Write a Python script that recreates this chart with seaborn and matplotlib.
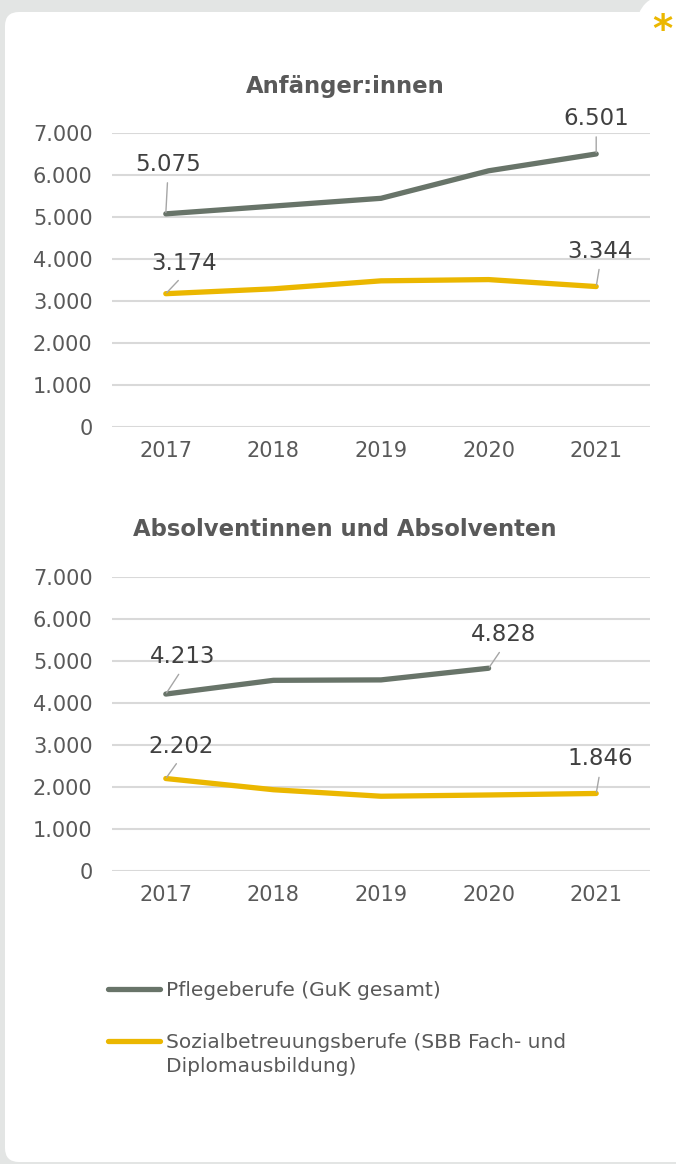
import numpy as np
import pandas as pd
import seaborn as sns
import matplotlib.pyplot as plt
from matplotlib.patches import FancyBboxPatch, Circle

# Daten
years = [2017, 2018, 2019, 2020, 2021]
pflege = "Pflegeberufe (GuK gesamt)"
sozial = "Sozialbetreuungsberufe (SBB Fach- und"
sozial_rest = "Diplomausbildung)"

# Anfänger:innen
start_pflege = [5075, 5260, 5445, 6100, 6501]
start_sozial = [3174, 3290, 3480, 3510, 3344]

# Absolventinnen und Absolventen
grad_pflege = [4213, 4540, 4550, 4828, np.nan]
grad_sozial = [2202, 1935, 1780, 1810, 1846]

yticks = [0, 1000, 2000, 3000, 4000, 5000, 6000, 7000]
ytick_labels = ["0", "1.000", "2.000", "3.000", "4.000", "5.000", "6.000", "7.000"]

titles = ["Anfänger:innen", "Absolventinnen und Absolventen"]

GREY_LINE = "#687469"
YELLOW = "#ebb700"
TXT = "#595959"


def fmt(v):
    return f"{v:,.0f}".replace(",", ".")


def make_df(p, s):
    return pd.DataFrame({
        "Jahr": years * 2,
        "Wert": list(p) + list(s),
        "Gruppe": [pflege] * len(years) + [sozial] * len(years),
    })


fig = plt.figure(figsize=(6.76, 11.64), dpi=100)
fig.patch.set_facecolor("#e3e5e4")

# weiße Karte
card = FancyBboxPatch((0.05, 0.02), 7.5, 11.50,
                      boxstyle="round,pad=0,rounding_size=0.14",
                      transform=fig.dpi_scale_trans, facecolor="white",
                      edgecolor="none", zorder=-2)
fig.patches.append(card)
fig.patches.append(Circle((6.66, 11.40), 0.29, transform=fig.dpi_scale_trans,
                          facecolor="white", edgecolor="none", zorder=-2))
fig.text(662 / 676, 1 - 31 / 1164, "*", color=YELLOW, fontsize=28,
         fontweight="bold", ha="center", va="center")

left, width, height = 112 / 676, 538 / 676, 294 / 1164
ax1 = fig.add_axes([left, 1 - 427 / 1164, width, height])
ax2 = fig.add_axes([left, 1 - 871 / 1164, width, height])
for a in (ax1, ax2):
    a.set_facecolor("none")

datasets = [make_df(start_pflege, start_sozial), make_df(grad_pflege, grad_sozial)]

# Beschriftungen: (Gruppe, Jahr) -> Versatz in Pixeln
label_sets = [
    {(pflege, 2017): (2, 38), (pflege, 2021): (0, 24),
     (sozial, 2017): (18, 19), (sozial, 2021): (4, 24)},
    {(pflege, 2017): (17, 26), (pflege, 2020): (15, 22),
     (sozial, 2017): (15, 21), (sozial, 2021): (4, 23)},
]
title_y = [87, 530]

for ax, df, labels, title, ty in zip((ax1, ax2), datasets, label_sets, titles, title_y):
    sns.lineplot(data=df, x="Jahr", y="Wert", hue="Gruppe", ax=ax,
                 palette={pflege: GREY_LINE, sozial: YELLOW},
                 linewidth=3.8, solid_capstyle="round", legend=True)
    ax.set_xlim(2016.5, 2021.5)
    ax.set_ylim(0, 7000)
    ax.set_yticks(yticks)
    ax.set_yticklabels(ytick_labels)
    ax.set_xticks(years)
    ax.set_xticklabels([str(y) for y in years])
    ax.set_xlabel("")
    ax.set_ylabel("")
    ax.grid(axis="y", color="#d9d9d9", linewidth=1.5)
    ax.grid(axis="x", visible=False)
    ax.set_axisbelow(True)
    for s in ax.spines.values():
        s.set_visible(False)
    ax.tick_params(axis="both", length=0, labelsize=15, labelcolor=TXT)
    ax.tick_params(axis="y", pad=14)
    ax.tick_params(axis="x", pad=10)

    for (grp, yr), (dx, dy) in labels.items():
        val = df[(df["Gruppe"] == grp) & (df["Jahr"] == yr)]["Wert"].iloc[0]
        ax.annotate(fmt(val), xy=(yr, val), xytext=(dx, dy),
                    textcoords="offset pixels", ha="center", va="bottom",
                    fontsize=16.5, color="#404040", annotation_clip=False,
                    arrowprops=dict(arrowstyle="-", color="#a6a6a6", lw=1,
                                    shrinkA=3, shrinkB=1, relpos=(0.5, 0)))

    fig.text(345 / 676, 1 - ty / 1164, title, ha="center", va="center",
             fontsize=16.4, fontweight="bold", color=TXT)

handles, labs = ax1.get_legend_handles_labels()
ax1.get_legend().remove()
ax2.get_legend().remove()

leg = fig.legend(handles, labs, loc="upper left",
                 bbox_to_anchor=(108 / 676, 1 - 981 / 1164),
                 frameon=False, fontsize=14.5, handlelength=2.6,
                 handletextpad=0.3, borderpad=0, borderaxespad=0,
                 labelspacing=1.65, labelcolor=TXT)
for h in leg.legend_handles:
    h.set_linewidth(3.8)

fig.canvas.draw()
bb = leg.texts[1].get_window_extent()
fig.text(bb.x0 / fig.bbox.width, (bb.y0 - 5) / fig.bbox.height, sozial_rest,
         ha="left", va="top", fontsize=14.5, color=TXT)

fig.savefig("out.png", dpi=100, facecolor=fig.get_facecolor())
